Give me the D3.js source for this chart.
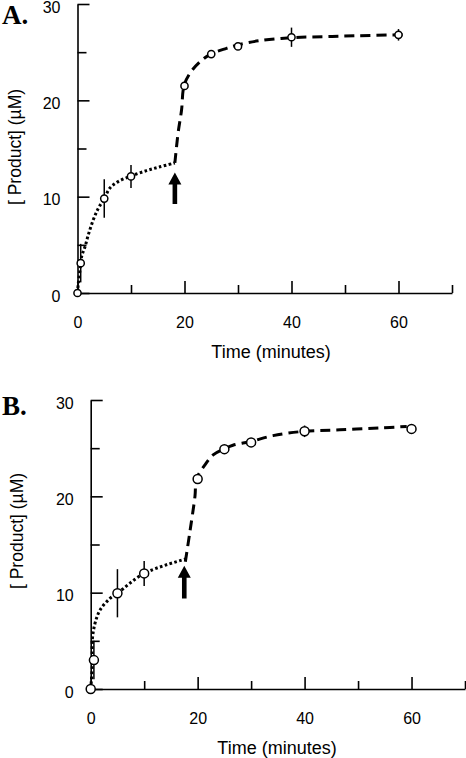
<!DOCTYPE html>
<html><head><meta charset="utf-8">
<script src="https://cdn.jsdelivr.net/npm/d3@7"></script>
<style>body{margin:0;background:#fff}svg{display:block}text{fill:#000}</style>
</head><body><svg id="c" width="466" height="758"></svg>
<script>
// ---------- data ----------
const xMajorTicks = [0, 20, 40, 60];
const xMinorTicks = [10, 30, 50, 70];
const yMajorTicks = [0, 10, 20, 30];
const yMinorTicks = [5, 15, 25];
const xTitle = "Time (minutes)";
const yTitle = "[ Product] (µM)";

// Panel A
const timeA = [0, 0.6, 5, 10, 20, 25, 30, 40, 60];
const productA = [0, 3.1, 9.8, 12.1, 21.5, 24.8, 25.6, 26.55, 26.8];
const errA = [0, 2.0, 2.0, 1.2, 0, 0, 0, 1.0, 0.6];
const dotTimeA = [0, 0.15, 0.47, 0.78, 1.4, 2.0, 2.95, 3.9, 5, 6.07, 7.6, 10, 12.9, 15.4, 18.2];
const dotValA = [0, 1.0, 2.4, 3.8, 4.8, 6.0, 7.6, 8.8, 9.8, 10.9, 11.56, 12.15, 12.7, 13.1, 13.5];
const dashTimeA = [18.2, 18.8, 19.45, 19.9, 21, 22.9, 24.9, 27.85, 30.3, 34.1, 39.9, 45.9, 52.1, 59.9, 61.4];
const dashValA = [13.5, 16.6, 19.0, 21.5, 22.8, 24.0, 24.8, 25.4, 25.8, 26.2, 26.5, 26.6, 26.7, 26.8, 26.8];
const arrowA = {t: 18.2, top: 12.5, bottom: 9.25};

// Panel B
const timeB = [0, 0.6, 5, 10, 20, 25, 30, 40, 60];
const productB = [0, 3.0, 9.94, 12.0, 21.8, 24.9, 25.6, 26.75, 27.0];
const errB = [0, 2.0, 2.5, 1.3, 0, 0, 0, 0.6, 0];
const dotTimeB = [0, 0.3, 0.3, 0.8, 1.75, 3.6, 5, 10, 17.8];
const dotValB = [0, 2.5, 5.1, 6.8, 8.2, 9.4, 9.94, 12.0, 13.5];
const dashTimeB = [17.7, 18.6, 19.5, 19.8, 21.4, 22.9, 24.9, 26.6, 29.95, 34.1, 39.9, 46.6, 54.1, 59.1];
const dashValB = [13.2, 16.5, 20.0, 21.8, 23.3, 24.3, 24.9, 25.3, 25.7, 26.3, 26.75, 26.9, 27.1, 27.25];
const arrowB = {t: 17.5, top: 12.8, bottom: 9.4};

// ---------- drawing ----------
const svg = d3.select("#c");
const SANS = "Arial, 'Liberation Sans', sans-serif";
const SERIF = "'Liberation Serif', 'Times New Roman', serif";

function panel(cfg) {
  const g = svg.append("g");
  const x = d3.scaleLinear().domain([0, 70]).range([cfg.x0, cfg.x1]);
  const y = d3.scaleLinear().domain([0, 30]).range([cfg.y0, cfg.y1]);

  // axes
  g.append("g").attr("transform", `translate(0,${cfg.y0})`)
    .call(d3.axisBottom(x).tickValues(xMajorTicks).tickSize(-12).tickSizeOuter(0).tickPadding(24).tickFormat(d3.format("d")));
  g.append("g").attr("transform", `translate(0,${cfg.y0})`)
    .call(d3.axisBottom(x).tickValues(xMinorTicks).tickSize(-8).tickSizeOuter(0).tickFormat(""))
    .select(".domain").remove();
  const ya = g.append("g").attr("transform", `translate(${cfg.x0},0)`)
    .call(d3.axisLeft(y).tickValues(yMajorTicks).tickSize(-12).tickSizeOuter(0).tickPadding(17).tickFormat(d3.format("d")));
  ya.selectAll(".tick text").attr("y", 3);
  g.append("g").attr("transform", `translate(${cfg.x0},0)`)
    .call(d3.axisLeft(y).tickValues(yMinorTicks).tickSize(-9).tickSizeOuter(0).tickFormat(""))
    .select(".domain").remove();
  g.selectAll(".domain, .tick line").attr("stroke", "#000").attr("stroke-width", 1.6);
  g.selectAll(".tick text").style("font-size", "16px").style("font-family", SANS).attr("fill", "#000");

  // titles
  g.append("text").attr("x", cfg.xtX).attr("y", cfg.xtY).attr("text-anchor", "middle")
    .style("font-size", "18px").style("font-family", SANS).text(xTitle);
  g.append("text").attr("transform", `translate(${cfg.ytX},${cfg.ytY}) rotate(-90)`)
    .attr("text-anchor", "middle").style("font-size", "17.5px").style("font-family", SANS).text(yTitle);
  g.append("text").attr("x", 2).attr("y", cfg.labY)
    .style("font-size", "27px").style("font-family", SERIF).style("font-weight", "bold").text(cfg.label);

  const curve = d3.line().x(d => x(d[0])).y(d => y(d[1])).curve(d3.curveCatmullRom);
  const dotPts = cfg.dotT.map((t, i) => [t, cfg.dotV[i]]);
  const dashPts = cfg.dashT.map((t, i) => [t, cfg.dashV[i]]);
  g.append("path").attr("d", curve(dotPts))
    .attr("fill", "none").attr("stroke", "#000").attr("stroke-width", 3).attr("stroke-dasharray", "2.6,2.4");
  g.append("path").attr("d", curve(dashPts))
    .attr("fill", "none").attr("stroke", "#000").attr("stroke-width", 3).attr("stroke-dasharray", "10,6");

  // error bars
  cfg.t.forEach((t, i) => {
    if (cfg.e[i] > 0) {
      g.append("line").attr("x1", x(t)).attr("x2", x(t))
        .attr("y1", y(cfg.v[i] - cfg.e[i])).attr("y2", y(cfg.v[i] + cfg.e[i]))
        .attr("stroke", "#000").attr("stroke-width", 1.5);
    }
  });
  // points
  g.selectAll("circle.pt").data(cfg.t.map((t, i) => [t, cfg.v[i]])).join("circle")
    .attr("class", "pt").attr("cx", d => x(d[0])).attr("cy", d => y(d[1])).attr("r", cfg.r)
    .attr("fill", "#fff").attr("stroke", "#000").attr("stroke-width", 1.5);

  // arrow
  const a = cfg.arrow, ax = x(a.t), yt = y(a.top), yb = y(a.bottom);
  const hh = 12, hw = 6.5, sw = 2.3;
  g.append("path").attr("d",
    `M${ax},${yt} L${ax + hw},${yt + hh} L${ax + sw},${yt + hh} L${ax + sw},${yb} L${ax - sw},${yb} L${ax - sw},${yt + hh} L${ax - hw},${yt + hh} Z`)
    .attr("fill", "#000");
}

panel({x0: 77.5, x1: 452, y0: 293, y1: 4, xtX: 271, xtY: 358, ytX: 21, ytY: 147, labY: 24, label: "A.",
  t: timeA, v: productA, e: errA, dotT: dotTimeA, dotV: dotValA, dashT: dashTimeA, dashV: dashValA, arrow: arrowA, r: 3.6});
panel({x0: 90.7, x1: 465, y0: 689, y1: 400, xtX: 277, xtY: 754, ytX: 23, ytY: 531, labY: 415, label: "B.",
  t: timeB, v: productB, e: errB, dotT: dotTimeB, dotV: dotValB, dashT: dashTimeB, dashV: dashValB, arrow: arrowB, r: 4.5});
</script></body></html>
